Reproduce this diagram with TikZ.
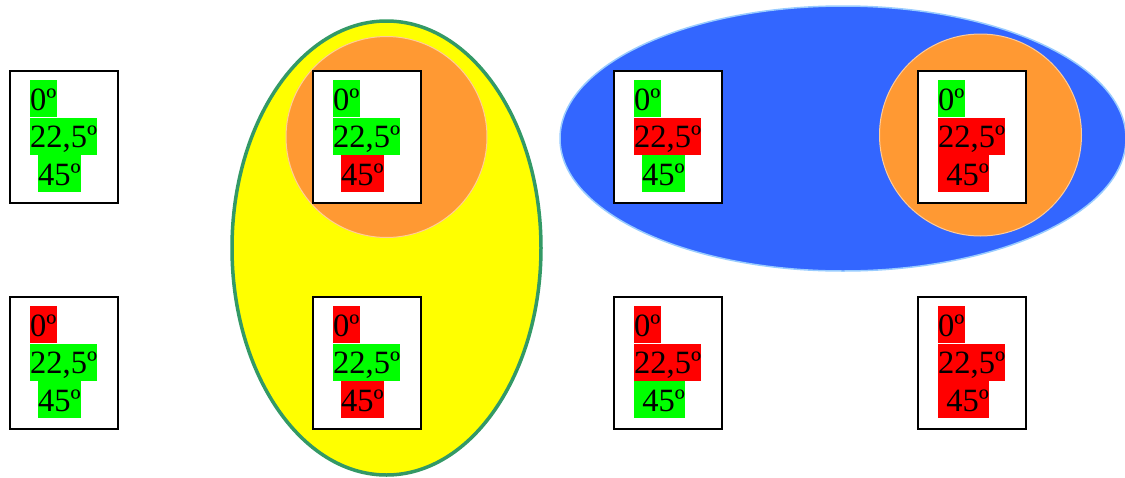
\documentclass[tikz,border=0pt]{standalone}
\usepackage{fontspec}
\setmainfont{Liberation Serif}
\usepackage{xcolor}
\usepackage{tikz}
\usetikzlibrary{positioning}
\definecolor{okc}{HTML}{00FF00}
\definecolor{badc}{HTML}{FF0000}
\definecolor{setyel}{HTML}{FFFF00}
\definecolor{setrim}{HTML}{339966}
\definecolor{orangec}{HTML}{FF9933}
\definecolor{orrim}{HTML}{FFCC99}
\definecolor{bluec}{HTML}{3366FF}
\definecolor{bluerim}{HTML}{99CCFF}
\tikzset{
  cell/.style={draw=black,line width=1.5pt,fill=white,anchor=north west,
    minimum width=108pt,minimum height=132pt,inner sep=0pt},
  ang/.style={fill=#1,anchor=north west,inner sep=0pt,text height=30pt,text depth=7pt,
    font=\fontsize{32.5}{37}\selectfont}
}
% #1 name, #2 position, #3 #4 colours of 0 and 22,5
\newcommand{\degbox}[4]{%
  \node[cell] (#1) at (#2) {};
  \node[ang=#3] (#1-a) at ([shift={(21,10)}]#1.north west) {0º};
  \node[ang=#4,below=0pt of #1-a.south west,anchor=north west] (#1-b) {22,5º};}
\newcommand{\lastnar}[2]{% indented 45
  \node[ang=#2,anchor=north west] (#1-c) at ([xshift=8]#1-b.south west) {45º};}
\newcommand{\lastwide}[2]{% 45 with the space filled
  \node[ang=#2,anchor=north west] (#1-c) at (#1-b.south west) {\ 45º};}

\begin{document}
\begin{tikzpicture}[x=1pt,y=-1pt]
\useasboundingbox (0,0) rectangle (1125,477);
\clip (0,0) rectangle (1125,477);
% sets
\draw[setrim,line width=3.5pt,fill=setyel] (386.5,248) ellipse [x radius=154.5,y radius=227];
\draw[orrim,line width=1pt,fill=orangec] (386.5,137) circle (100.5);
\draw[bluerim,line width=1.5pt,fill=bluec] (843,138.5) ellipse [x radius=283,y radius=132.5];
\draw[orrim,line width=1pt,fill=orangec] (980.5,135) circle (101);
% top row
\degbox{t1}{9,70}{okc}{okc}\lastnar{t1}{okc}
\degbox{t2}{312,70}{okc}{okc}\lastnar{t2}{badc}
\degbox{t3}{613,70}{okc}{badc}\lastnar{t3}{okc}
\degbox{t4}{917,70}{okc}{badc}\lastwide{t4}{badc}
% bottom row
\degbox{u1}{9,296}{badc}{okc}\lastnar{u1}{okc}
\degbox{u2}{312,296}{badc}{okc}\lastnar{u2}{badc}
\degbox{u3}{613,296}{badc}{badc}\lastwide{u3}{okc}
\degbox{u4}{917,296}{badc}{badc}\lastwide{u4}{badc}
\end{tikzpicture}
\end{document}
